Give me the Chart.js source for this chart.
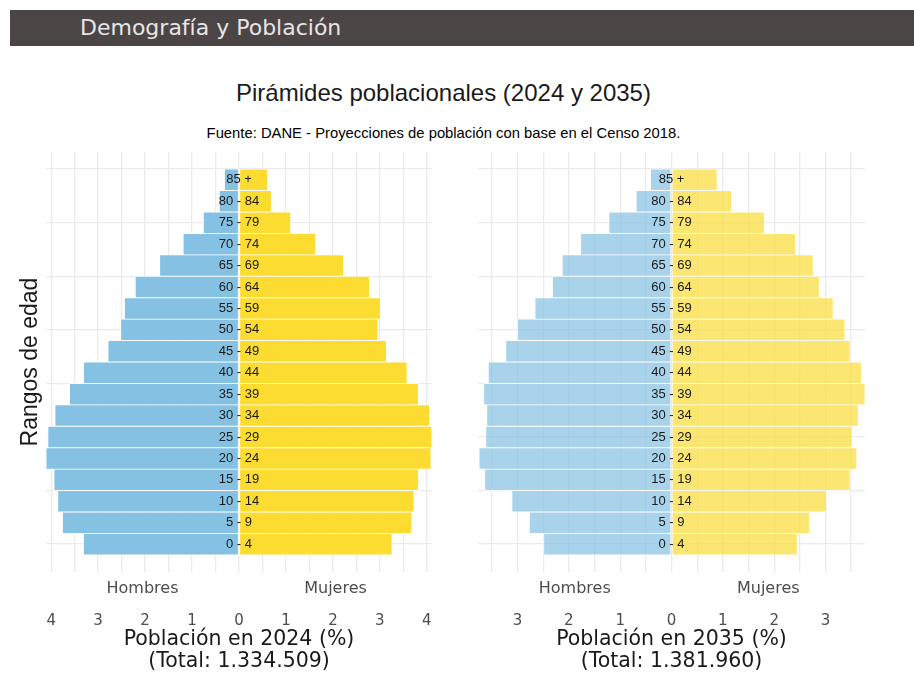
<!DOCTYPE html>
<html>
<head>
<meta charset="utf-8">
<script src="https://cdn.jsdelivr.net/npm/chart.js@4.4.1/dist/chart.umd.min.js"></script>
<style>
  body { margin:0; background:#fff; width:914px; height:675px; overflow:hidden; position:relative; font-family:"Liberation Sans", Arial, sans-serif; }
  #header { position:absolute; left:10px; top:10px; width:904px; height:36px; background:#4b4546; color:#e6e6e6;
            font:22px "DejaVu Sans", sans-serif; line-height:36px; padding-left:70px; box-sizing:border-box; }
  #title { position:absolute; left:0; width:887px; top:79px; line-height:28px; text-align:center; font-size:24px; color:#1a1a1a; }
  #sub { position:absolute; left:0; width:887px; top:124px; line-height:18px; text-align:center; font-size:14.8px; color:#000; }
  .panel { position:absolute; top:140px; }
</style>
</head>
<body>
<div id="header">Demografía y Población</div>
<div id="title">Pirámides poblacionales (2024 y 2035)</div>
<div id="sub">Fuente: DANE - Proyecciones de población con base en el Censo 2018.</div>
<canvas id="pyr2024" class="panel" style="left:0" width="450" height="535"></canvas>
<canvas id="pyr2035" class="panel" style="left:460px" width="454" height="535"></canvas>
<script>
// age groups, bottom to top
const AGES = ['0 - 4','5 - 9','10 - 14','15 - 19','20 - 24','25 - 29','30 - 34','35 - 39','40 - 44',
  '45 - 49','50 - 54','55 - 59','60 - 64','65 - 69','70 - 74','75 - 79','80 - 84','85 +'];

// % of total population
const MEN_2024   = [3.31,3.76,3.86,3.94,4.11,4.07,3.92,3.61,3.31,2.79,2.52,2.44,2.21,1.69,1.19,0.76,0.42,0.31];
const WOMEN_2024 = [3.26,3.68,3.73,3.82,4.09,4.11,4.06,3.82,3.58,3.14,2.96,3.01,2.78,2.23,1.63,1.10,0.69,0.61];
const MEN_2035   = [2.49,2.77,3.11,3.64,3.75,3.62,3.60,3.66,3.57,3.23,3.00,2.66,2.32,2.13,1.77,1.22,0.69,0.41];
const WOMEN_2035 = [2.45,2.69,3.02,3.48,3.61,3.52,3.64,3.77,3.70,3.48,3.38,3.15,2.88,2.76,2.42,1.81,1.17,0.89];

const TOTAL_2024 = '1.334.509';
const TOTAL_2035 = '1.381.960';
const Y_GRID = [0, 2.5, 5, 7.5, 10, 12.5, 15, 17.5];

const SANS = '"DejaVu Sans", Verdana, sans-serif';
const GRID = '#ebebeb';

const pyrLabels = {
  id: 'pyrLabels',
  afterDatasetsDraw(chart) {
    const {ctx, chartArea} = chart;
    const x = chart.scales.x, y = chart.scales.y;
    ctx.save();
    ctx.textAlign = 'center';
    ctx.textBaseline = 'middle';
    ctx.font = '13px "Liberation Sans", Arial, sans-serif';
    ctx.fillStyle = '#1a1a1a';
    AGES.forEach((a, i) => ctx.fillText(a, x.getPixelForValue(0), y.getPixelForValue(i)));
    ctx.font = '16px ' + SANS;
    ctx.fillStyle = '#4d4d4d';
    const half = x.max / 2;
    ctx.fillText('Hombres', x.getPixelForValue(-half), chartArea.bottom + 17);
    ctx.fillText('Mujeres', x.getPixelForValue(half), chartArea.bottom + 17);
    ctx.restore();
  }
};

function pyramid(id, men, women, year, total, colors, side) {
  const lim = Math.max(...men, ...women);
  const ds = (vals, sign, color) => ({
    data: vals.map((v, i) => ({x: sign * v, y: i})),
    backgroundColor: color,
    borderColor: 'rgba(255,255,255,0.8)',
    borderWidth: 0.8,
    borderSkipped: false,
    grouped: false,
    barPercentage: 1,
    categoryPercentage: 1
  });
  return new Chart(document.getElementById(id), {
    type: 'bar',
    data: { datasets: [ds(men, -1, colors[0]), ds(women, 1, colors[1])] },
    plugins: [pyrLabels],
    options: {
      responsive: false,
      animation: false,
      devicePixelRatio: 1,
      indexAxis: 'y',
      layout: { padding: side.padding },
      plugins: { legend: { display: false }, tooltip: { enabled: false } },
      scales: {
        x: {
          type: 'linear', min: -lim, max: lim,
          grid: { color: GRID, lineWidth: 1.3, drawTicks: true, tickLength: 40, tickColor: 'rgba(0,0,0,0)' },
          border: { display: false },
          ticks: {
            stepSize: 0.5, includeBounds: false, autoSkip: false, maxRotation: 0, padding: 0,
            color: '#4d4d4d', font: { family: SANS, size: 15 },
            callback: v => Number.isInteger(v) ? String(Math.abs(v)) : ''
          },
          title: {
            display: true, text: ['Población en ' + year + ' (%)', '(Total: ' + total + ')'],
            color: '#1a1a1a', font: { family: SANS, size: 20.5, lineHeight: 1.07 }, padding: { top: 0, bottom: 0 }
          },
          afterFit: s => { s.height = 101; }
        },
        y: {
          type: 'linear', min: -1.3, max: 18.3, offset: false,
          afterBuildTicks: s => { s.ticks = Y_GRID.map(v => ({ value: v })); },
          grid: { color: GRID, lineWidth: 1.3, drawTicks: false, offset: false },
          border: { display: false },
          ticks: { display: false },
          title: side.yTitle
            ? { display: true, text: 'Rangos de edad', color: '#1a1a1a',
                font: { family: '"Liberation Sans", Arial, sans-serif', size: 23 }, padding: { top: 17, bottom: 0 } }
            : { display: false },
          afterFit: s => { s.width = side.yWidth; }
        }
      }
    }
  });
}

pyramid('pyr2024', MEN_2024, WOMEN_2024, 2024, TOTAL_2024, ['#85c1e3', '#fddc32'],
  { padding: { left: 0, right: 18, top: 12, bottom: 2 }, yTitle: true, yWidth: 46 });
pyramid('pyr2035', MEN_2035, WOMEN_2035, 2035, TOTAL_2035, ['rgba(133,193,227,0.7)', 'rgba(250,220,60,0.72)'],
  { padding: { left: 18, right: 49, top: 12, bottom: 2 }, yTitle: false, yWidth: 0 });
</script>
</body>
</html>
